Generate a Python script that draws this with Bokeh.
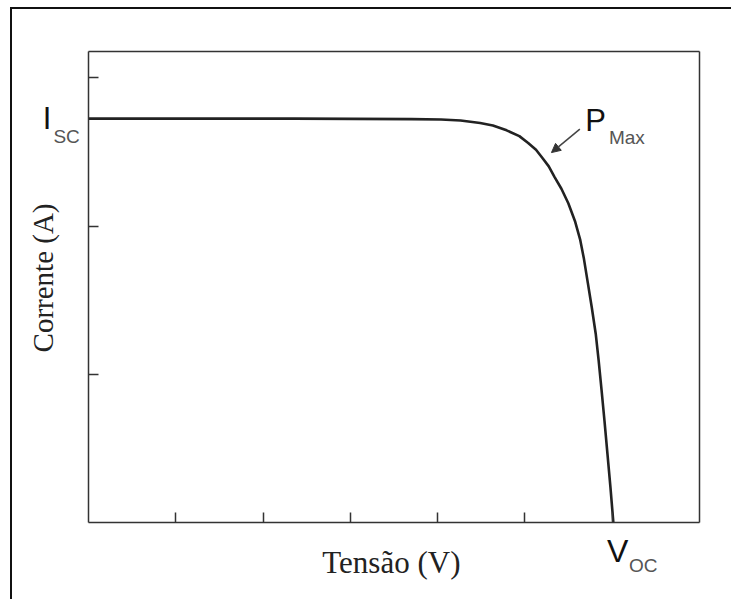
import math
from bokeh.plotting import figure
from bokeh.models import Label, Arrow, NormalHead, FixedTicker, Range1d, LinearAxis
from bokeh.embed import file_html
from bokeh.resources import INLINE

# I-V curve of a solar cell (arbitrary units)
voltage = [0.0, 2.356, 3.702, 4.039, 4.263, 4.487, 4.633, 4.790, 4.936, 5.037, 5.127,
           5.205, 5.273, 5.340, 5.418, 5.497, 5.576, 5.632, 5.676, 5.721, 5.766,
           5.811, 5.845, 5.878, 5.912, 5.946, 5.980, 6.013]
current = [2.725, 2.725, 2.722, 2.719, 2.712, 2.695, 2.679, 2.646, 2.607, 2.561, 2.515,
           2.456, 2.403, 2.331, 2.252, 2.154, 2.029, 1.911, 1.779, 1.615, 1.451,
           1.274, 1.090, 0.893, 0.683, 0.460, 0.236, 0.0]

x_ticks = [1, 2, 3, 4, 5, 6]
y_ticks = [1, 2, 3]
x_max = 7.0
y_max = 3.178
isc = 2.725
voc = 6.013
pmax = (5.304, 2.496)

W, H = 731, 599
left, right, top, bottom = 88, 32, 51, 77
sx = (W - left - right) / x_max
sy = (H - top - bottom) / y_max

p = figure(width=W, height=H, output_backend="svg", toolbar_location=None,
           x_range=Range1d(-left / sx, x_max + right / sx),
           y_range=Range1d(-bottom / sy, y_max + top / sy),
           min_border=0, min_border_left=0, min_border_right=0,
           min_border_top=0, min_border_bottom=0)
p.styles = {
    "background-color": "white",
    "background-image": "linear-gradient(#111,#111), linear-gradient(#111,#111)",
    "background-size": "2px 100%, 100% 2px",
    "background-position": "10px 7px, 10px 7px",
    "background-repeat": "no-repeat",
}
p.grid.visible = False
p.background_fill_alpha = 0
p.border_fill_alpha = 0
p.outline_line_alpha = 0

def style_axis(ax, ticks):
    ax.ticker = FixedTicker(ticks=[], minor_ticks=ticks)
    ax.major_tick_in = 0
    ax.major_tick_out = 0
    ax.minor_tick_in = 10
    ax.minor_tick_out = 0
    ax.axis_line_color = "#333333"
    ax.axis_line_width = 1.5
    ax.minor_tick_line_color = "#333333"
    ax.minor_tick_line_width = 1.5

xa = p.xaxis[0]
ya = p.yaxis[0]
style_axis(xa, x_ticks)
style_axis(ya, y_ticks)
xa.fixed_location = 0
xa.bounds = (0, x_max)
ya.fixed_location = 0
ya.bounds = (0, y_max)

top_ax = LinearAxis(fixed_location=y_max, bounds=(0, x_max))
right_ax = LinearAxis(fixed_location=x_max, bounds=(0, y_max))
style_axis(top_ax, [])
style_axis(right_ax, [])
p.add_layout(top_ax, "above")
p.add_layout(right_ax, "right")

p.line(voltage, current, line_color="#222222", line_width=2.6)

sans = "Liberation Sans"
def lab(x, y, t, size, color, font=sans, **kw):
    opts = dict(text_baseline="alphabetic", text_align="left")
    opts.update(kw)
    p.add_layout(Label(x=x, y=y, text=t, text_font=font, text_font_size=size,
                       text_color=color, **opts))

# axis titles
lab(x_max / 2 - 0.03, -0.272, "Tensão (V)", "31px", "#222222", font="Liberation Serif",
    text_align="center")
lab(-0.526, 1.65, "Corrente (A)", "29px", "#222222", font="Liberation Serif",
    text_align="center", angle=math.pi / 2)

# I_SC
lab(-0.525, isc, "I", "31px", "#111111")
lab(-0.402, isc - 0.122, "SC", "19px", "#555555")
# P_Max
lab(5.691, 2.710, "P", "31px", "#111111")
lab(5.962, 2.599, "Max", "19px", "#555555")
# V_OC
lab(voc - 0.073, -0.195, "V", "32px", "#111111")
lab(voc + 0.178, -0.292, "OC", "19px", "#555555")

p.add_layout(Arrow(end=NormalHead(size=9, fill_color="#333333", line_color="#333333"),
                   x_start=5.629, y_start=2.654, x_end=pmax[0], y_end=pmax[1],
                   line_color="#444444", line_width=1.5))

open("out.html", "w").write(file_html(p, INLINE))
